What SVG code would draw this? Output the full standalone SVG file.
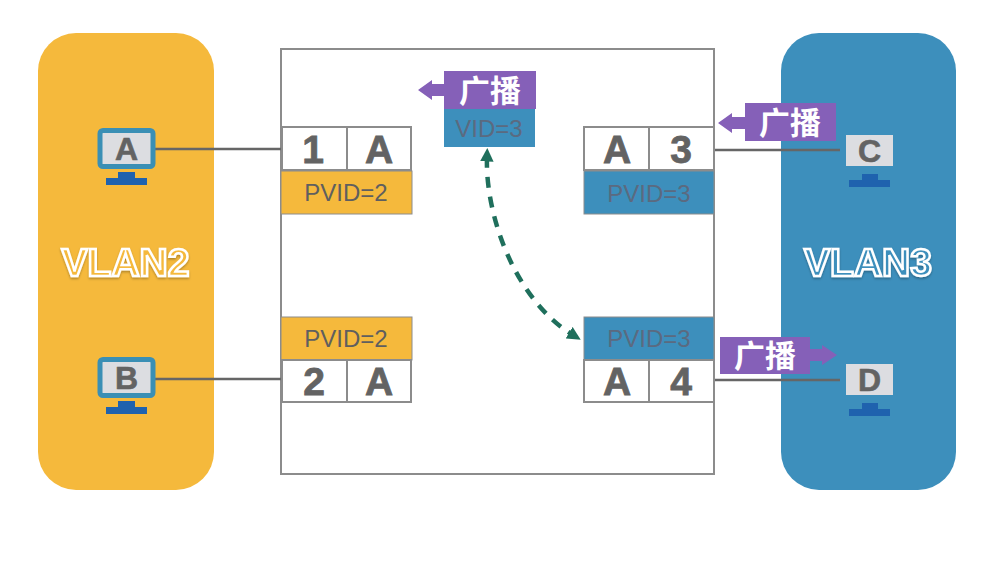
<svg xmlns="http://www.w3.org/2000/svg" width="998" height="562" viewBox="0 0 998 562">
<style>
text{font-family:"Liberation Sans",Arial,"Noto Sans CJK SC",sans-serif;text-anchor:middle}
.cell{fill:#fff;stroke:#8c8c8c;stroke-width:2}
.port{font-size:39px;font-weight:700;fill:#636363;stroke:#636363;stroke-width:.8}
.pvid{font-size:24px;fill:#5f5f5f}
.pvb{font-size:24px;fill:#5b6a80}
.pb{fill:#3d8fbc;stroke:#8c8c8c;stroke-width:1}
.po{fill:#f5b93c;stroke:#8c8c8c;stroke-width:1}
.bc{fill:#8560b8}
.bct{font-family:"Noto Sans CJK SC","Liberation Sans",sans-serif;font-size:31px;font-weight:700;fill:#fff}
.vlan{font-size:39px;font-weight:700;stroke:#fff;stroke-width:2.500;filter:url(#sh)}
.scr{fill:#dcdde1}
.bez{fill:#dcdde1;stroke:#3a8fb5;stroke-width:5}
.stand{fill:#1f62ae}
.lt{font-size:32px;font-weight:700;fill:#636363;stroke:#636363;stroke-width:.6}
.wire{stroke:#666;stroke-width:2.500;fill:none}
</style>
<defs>
<marker id="ah" markerWidth="3" markerHeight="3" refX="1" refY="1.500" orient="auto-start-reverse" markerUnits="strokeWidth" viewBox="0 0 3 3"><path d="M0 0L3 1.500L0 3Z" fill="#1f6f5c"/></marker>
<filter id="sh" x="-10%" y="-20%" width="120%" height="150%"><feDropShadow dx="0" dy="1.500" stdDeviation="1" flood-color="#000" flood-opacity=".3"/></filter>
</defs>
<rect width="998" height="562" fill="#fff"/>
<g id="vlan2"><rect x="38" y="33" width="176" height="457" rx="38" fill="#f5b93c"/><text class="vlan" x="125.500" y="276" fill="#f5b93c">VLAN2</text></g>
<g id="vlan3"><rect x="781" y="33" width="175" height="457" rx="38" fill="#3d8fbc"/><text class="vlan" x="868" y="276" fill="#3d8fbc">VLAN3</text></g>
<g id="switch"><rect x="281" y="49" width="433" height="425" fill="#fff" stroke="#8c8c8c" stroke-width="2"/></g>
<g id="connectors">
<path class="wire" d="M155 149H281"/>
<path class="wire" d="M155 379H281"/>
<path class="wire" d="M714 150H840"/>
<path class="wire" d="M714 380H840"/>
<path d="M487 157C485 215 515 300 573 335" fill="none" stroke="#1f6f5c" stroke-width="4.500" stroke-dasharray="11 9" marker-start="url(#ah)" marker-end="url(#ah)"/>
</g>
<g id="pc-a"><rect class="bez" x="100" y="130.500" width="53" height="36" rx="3"/><text class="lt" x="126.500" y="160">A</text><path class="stand" d="M118 172H135V178H147V185H106V178H118Z"/></g>
<g id="pc-b"><rect class="bez" x="100" y="359.500" width="53" height="36" rx="3"/><text class="lt" x="126.500" y="389">B</text><path class="stand" d="M118 401H135V407H147V414H106V407H118Z"/></g>
<g id="pc-c"><rect class="scr" x="846" y="135" width="47" height="31"/><text class="lt" x="869.500" y="162">C</text><path class="stand" d="M862 174H878V180H890V187H849V180H862Z"/></g>
<g id="pc-d"><rect class="scr" x="846" y="364" width="47" height="31"/><text class="lt" x="869.500" y="391">D</text><path class="stand" d="M862 403H878V409H890V416H849V409H862Z"/></g>
<g id="port-1"><rect class="cell" x="282" y="127" width="65" height="43"/><rect class="cell" x="347" y="127" width="64" height="43"/><text class="port" x="313" y="163">1</text><text class="port" x="379" y="163">A</text><rect class="po" x="281" y="171" width="131" height="43"/><text class="pvid" x="346" y="201">PVID=2</text></g>
<g id="port-2"><rect class="po" x="281" y="317" width="131" height="43"/><text class="pvid" x="346" y="347">PVID=2</text><rect class="cell" x="282" y="360" width="65" height="42"/><rect class="cell" x="347" y="360" width="64" height="42"/><text class="port" x="314" y="395">2</text><text class="port" x="379" y="395">A</text></g>
<g id="port-3"><rect class="cell" x="584" y="127" width="65" height="43"/><rect class="cell" x="649" y="127" width="65" height="43"/><text class="port" x="617" y="163">A</text><text class="port" x="681" y="163">3</text><rect class="pb" x="584" y="171" width="130" height="43"/><text class="pvb" x="649" y="202">PVID=3</text></g>
<g id="port-4"><rect class="pb" x="584" y="317" width="130" height="43"/><text class="pvb" x="649" y="347">PVID=3</text><rect class="cell" x="584" y="360" width="65" height="42"/><rect class="cell" x="649" y="360" width="65" height="42"/><text class="port" x="617" y="395">A</text><text class="port" x="681" y="395">4</text></g>
<g id="frame-vid"><rect x="444" y="109" width="91" height="38" fill="#3d8fbc"/><text class="pvb" x="489" y="137">VID=3</text></g>
<g id="broadcast-top"><path class="bc" d="M444 71H536V109H444V96H432V100L418 90L432 80V84H444Z"/><text class="bct" x="490" y="102">广播</text></g>
<g id="broadcast-c"><path class="bc" d="M745 103H836V141H745V129H732V133L718 123L732 113V117H745Z"/><text class="bct" x="790" y="134">广播</text></g>
<g id="broadcast-d"><path class="bc" d="M720 337H810V349H822V345L837 355L822 365V361H810V374H720Z"/><text class="bct" x="765" y="367">广播</text></g>
</svg>
